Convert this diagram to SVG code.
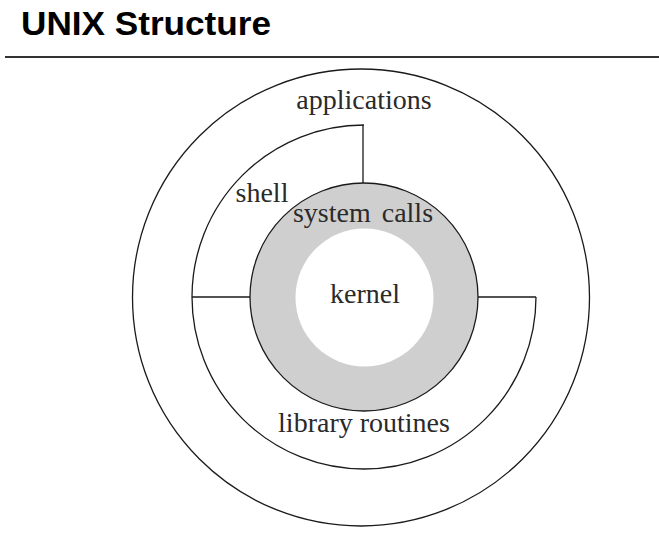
<svg xmlns="http://www.w3.org/2000/svg" width="659" height="533" viewBox="0 0 659 533">
<style>
.ln{fill:none;stroke:#1a1a1a;stroke-width:1.3}
.lbl{font-family:"Liberation Serif","Times New Roman",serif;font-size:28px;fill:#2a2a2a;text-anchor:middle}
.title{font-family:"Liberation Sans",Arial,sans-serif;font-weight:bold;font-size:33px;fill:#000}
</style>
<rect width="659" height="533" fill="#fff"/>
<text class="title" x="21" y="35" textLength="250" lengthAdjust="spacingAndGlyphs">UNIX Structure</text>
<line x1="5" y1="57" x2="659" y2="57" stroke="#333" stroke-width="2"/>
<g id="applications">
<circle class="ln" cx="361" cy="297.5" r="228.5"/>
<text class="lbl" x="364" y="109">applications</text>
</g>
<g id="shell-library">
<path class="ln" d="M364 125 A172 172 0 1 0 536 297"/>
<text class="lbl" x="262" y="202">shell</text>
<text class="lbl" x="364" y="432">library routines</text>
</g>
<g id="system-calls">
<circle cx="364" cy="297" r="114" fill="#cfcfcf" stroke="#1a1a1a" stroke-width="1.3"/>
<text class="lbl" x="363" y="222" word-spacing="4">system calls</text>
</g>
<g id="kernel">
<circle cx="364.5" cy="297.5" r="69" fill="#fff"/>
<text class="lbl" x="365" y="303">kernel</text>
</g>
<g id="connectors">
<line class="ln" x1="363" y1="125" x2="363" y2="183"/>
<line class="ln" x1="192" y1="297" x2="250" y2="297"/>
<line class="ln" x1="478" y1="297" x2="536" y2="297"/>
</g>
</svg>
